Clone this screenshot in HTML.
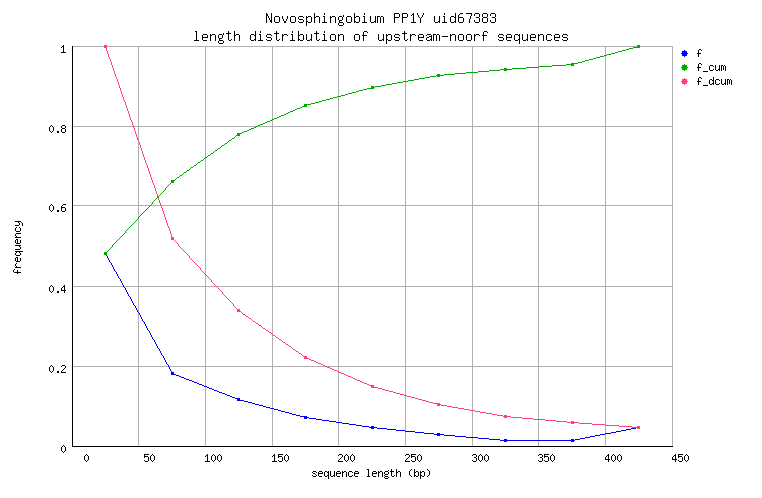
<!DOCTYPE html>
<html lang="en">
<head>
<meta charset="utf-8">
<title>Novosphingobium PP1Y uid67383 - length distribution of upstream-noorf sequences</title>
<style>
html,body{margin:0;padding:0;background:#fff;}
body{width:762px;height:498px;overflow:hidden;font-family:"Liberation Mono",monospace;}
svg{display:block;position:absolute;left:0;top:0;}
svg path{shape-rendering:crispEdges;stroke:none;}
svg text{font-family:"Liberation Mono",monospace;fill:#000;fill-opacity:0;}
.t-l{font-size:13.33px}.t-s{font-size:10px}
</style>
</head>
<body>
<svg width="762" height="498" viewBox="0 0 762 498" shape-rendering="crispEdges">
<rect width="762" height="498" fill="#fff"/>
<g id="grid" fill="#B0B0B0">
<rect x="138" y="46" width="1" height="401"/><rect x="205" y="46" width="1" height="401"/><rect x="272" y="46" width="1" height="401"/><rect x="338" y="46" width="1" height="401"/><rect x="405" y="46" width="1" height="401"/><rect x="472" y="46" width="1" height="401"/><rect x="538" y="46" width="1" height="401"/><rect x="605" y="46" width="1" height="401"/><rect x="672" y="46" width="1" height="401"/>
<rect x="72" y="46" width="601" height="1"/><rect x="72" y="126" width="601" height="1"/><rect x="72" y="205" width="601" height="1"/><rect x="72" y="286" width="601" height="1"/><rect x="72" y="366" width="601" height="1"/>
</g>
<g id="axes" fill="#000000"><rect x="72" y="46" width="1" height="401"/><rect x="72" y="446" width="601" height="1"/></g>
<g id="series-f" fill="#0000FF"><path d="M104 252h3v3h-3zM106 255h1v1h-1zM107 256h1v2h-1zM108 258h1v2h-1zM109 260h1v2h-1zM110 262h1v1h-1zM111 263h1v2h-1zM112 265h1v2h-1zM113 267h1v2h-1zM114 269h1v2h-1zM115 271h1v1h-1zM116 272h1v2h-1zM117 274h1v2h-1zM118 276h1v2h-1zM119 278h1v1h-1zM120 279h1v2h-1zM121 281h1v2h-1zM122 283h1v2h-1zM123 285h1v2h-1zM124 287h1v1h-1zM125 288h1v2h-1zM126 290h1v2h-1zM127 292h1v2h-1zM128 294h1v2h-1zM129 296h1v1h-1zM130 297h1v2h-1zM131 299h1v2h-1zM132 301h1v2h-1zM133 303h1v2h-1zM134 305h1v1h-1zM135 306h1v2h-1zM136 308h1v2h-1zM137 310h1v2h-1zM138 312h1v1h-1zM139 313h1v2h-1zM140 315h1v2h-1zM141 317h1v2h-1zM142 319h1v2h-1zM143 321h1v1h-1zM144 322h1v2h-1zM145 324h1v2h-1zM146 326h1v2h-1zM147 328h1v2h-1zM148 330h1v1h-1zM149 331h1v2h-1zM150 333h1v2h-1zM151 335h1v2h-1zM152 337h1v2h-1zM153 339h1v1h-1zM154 340h1v2h-1zM155 342h1v2h-1zM156 344h1v2h-1zM157 346h1v2h-1zM158 348h1v1h-1zM159 349h1v2h-1zM160 351h1v2h-1zM161 353h1v2h-1zM162 355h1v1h-1zM163 356h1v2h-1zM164 358h1v2h-1zM165 360h1v2h-1zM166 362h1v2h-1zM167 364h1v1h-1zM168 365h1v2h-1zM169 367h1v2h-1zM170 369h1v2h-1zM171 371h1v1h-1zM171 372h3v2h-3zM171 374h5v1h-5zM176 375h3v1h-3zM179 376h2v1h-2zM181 377h3v1h-3zM184 378h2v1h-2zM186 379h3v1h-3zM189 380h3v1h-3zM192 381h2v1h-2zM194 382h3v1h-3zM197 383h2v1h-2zM199 384h3v1h-3zM202 385h2v1h-2zM204 386h3v1h-3zM207 387h2v1h-2zM209 388h3v1h-3zM212 389h2v1h-2zM214 390h3v1h-3zM217 391h2v1h-2zM219 392h3v1h-3zM222 393h3v1h-3zM225 394h2v1h-2zM227 395h3v1h-3zM230 396h2v1h-2zM232 397h3v1h-3zM235 398h5v1h-5zM237 399h3v1h-3zM237 400h7v1h-7zM244 401h4v1h-4zM248 402h4v1h-4zM252 403h3v1h-3zM255 404h4v1h-4zM259 405h4v1h-4zM263 406h3v1h-3zM266 407h4v1h-4zM270 408h4v1h-4zM274 409h4v1h-4zM278 410h3v1h-3zM281 411h4v1h-4zM285 412h4v1h-4zM289 413h3v1h-3zM292 414h4v1h-4zM296 415h4v1h-4zM300 416h7v1h-7zM304 417h5v1h-5zM304 418h3v1h-3zM309 418h7v1h-7zM316 419h6v1h-6zM322 420h7v1h-7zM329 421h7v1h-7zM336 422h6v1h-6zM342 423h7v1h-7zM349 424h7v1h-7zM356 425h6v1h-6zM362 426h7v1h-7zM371 426h3v1h-3zM637 426h3v1h-3zM369 427h8v1h-8zM636 427h4v1h-4zM371 428h3v1h-3zM377 428h10v1h-10zM631 428h5v1h-5zM637 428h3v1h-3zM387 429h9v1h-9zM626 429h5v1h-5zM396 430h9v1h-9zM621 430h5v1h-5zM405 431h10v1h-10zM616 431h5v1h-5zM415 432h9v1h-9zM611 432h5v1h-5zM424 433h10v1h-10zM437 433h3v1h-3zM605 433h6v1h-6zM434 434h10v1h-10zM600 434h5v1h-5zM437 435h3v1h-3zM444 435h11v1h-11zM595 435h5v1h-5zM455 436h11v1h-11zM590 436h5v1h-5zM466 437h12v1h-12zM585 437h5v1h-5zM478 438h11v1h-11zM580 438h5v1h-5zM489 439h11v1h-11zM504 439h3v1h-3zM571 439h3v1h-3zM575 439h5v1h-5zM500 440h75v1h-75zM504 441h3v1h-3zM571 441h3v1h-3z"/></g>
<g id="series-f_cum" fill="#00AA00"><path d="M637 45h3v2h-3zM633 47h7v1h-7zM629 48h4v1h-4zM626 49h3v1h-3zM622 50h4v1h-4zM618 51h4v1h-4zM615 52h3v1h-3zM611 53h4v1h-4zM607 54h4v1h-4zM604 55h3v1h-3zM600 56h4v1h-4zM596 57h4v1h-4zM593 58h3v1h-3zM589 59h4v1h-4zM585 60h4v1h-4zM582 61h3v1h-3zM578 62h4v1h-4zM571 63h7v1h-7zM566 64h8v1h-8zM552 65h14v1h-14zM571 65h3v1h-3zM539 66h13v1h-13zM526 67h13v1h-13zM504 68h3v1h-3zM512 68h14v1h-14zM500 69h12v1h-12zM489 70h11v1h-11zM504 70h3v1h-3zM478 71h11v1h-11zM466 72h12v1h-12zM455 73h11v1h-11zM437 74h3v1h-3zM444 74h11v1h-11zM436 75h8v1h-8zM430 76h6v1h-6zM437 76h3v1h-3zM425 77h5v1h-5zM419 78h6v1h-6zM414 79h5v1h-5zM408 80h6v1h-6zM403 81h5v1h-5zM397 82h6v1h-6zM392 83h5v1h-5zM386 84h6v1h-6zM381 85h5v1h-5zM371 86h3v1h-3zM375 86h6v1h-6zM371 87h4v1h-4zM367 88h7v1h-7zM363 89h4v1h-4zM359 90h4v1h-4zM356 91h3v1h-3zM352 92h4v1h-4zM348 93h4v1h-4zM345 94h3v1h-3zM341 95h4v1h-4zM337 96h4v1h-4zM333 97h4v1h-4zM330 98h3v1h-3zM326 99h4v1h-4zM322 100h4v1h-4zM319 101h3v1h-3zM315 102h4v1h-4zM311 103h4v1h-4zM304 104h7v1h-7zM304 105h3v1h-3zM302 106h5v1h-5zM300 107h2v1h-2zM297 108h3v1h-3zM295 109h2v1h-2zM293 110h2v1h-2zM290 111h3v1h-3zM288 112h2v1h-2zM286 113h2v1h-2zM284 114h2v1h-2zM281 115h3v1h-3zM279 116h2v1h-2zM277 117h2v1h-2zM274 118h3v1h-3zM272 119h2v1h-2zM270 120h2v1h-2zM267 121h3v1h-3zM265 122h2v1h-2zM263 123h2v1h-2zM260 124h3v1h-3zM258 125h2v1h-2zM256 126h2v1h-2zM254 127h2v1h-2zM251 128h3v1h-3zM249 129h2v1h-2zM247 130h2v1h-2zM244 131h3v1h-3zM242 132h2v1h-2zM237 133h5v1h-5zM237 134h3v1h-3zM236 135h4v1h-4zM235 136h1v1h-1zM234 137h1v1h-1zM232 138h2v1h-2zM231 139h1v1h-1zM229 140h2v1h-2zM228 141h1v1h-1zM227 142h1v1h-1zM225 143h2v1h-2zM224 144h1v1h-1zM222 145h2v1h-2zM221 146h1v1h-1zM220 147h1v1h-1zM218 148h2v1h-2zM217 149h1v1h-1zM215 150h2v1h-2zM214 151h1v1h-1zM213 152h1v1h-1zM211 153h2v1h-2zM210 154h1v1h-1zM208 155h2v1h-2zM207 156h1v1h-1zM205 157h2v1h-2zM204 158h1v1h-1zM203 159h1v1h-1zM201 160h2v1h-2zM200 161h1v1h-1zM198 162h2v1h-2zM197 163h1v1h-1zM196 164h1v1h-1zM194 165h2v1h-2zM193 166h1v1h-1zM191 167h2v1h-2zM190 168h1v1h-1zM189 169h1v1h-1zM187 170h2v1h-2zM186 171h1v1h-1zM184 172h2v1h-2zM183 173h1v1h-1zM182 174h1v1h-1zM180 175h2v1h-2zM179 176h1v1h-1zM177 177h2v1h-2zM176 178h1v1h-1zM175 179h1v1h-1zM171 180h4v1h-4zM171 181h3v2h-3zM170 183h1v1h-1zM169 184h1v1h-1zM168 185h1v1h-1zM167 186h1v1h-1zM166 187h1v1h-1zM165 188h1v2h-1zM164 190h1v1h-1zM163 191h1v1h-1zM162 192h1v1h-1zM161 193h1v1h-1zM160 194h1v1h-1zM159 195h1v1h-1zM158 196h1v1h-1zM157 197h1v1h-1zM156 198h1v1h-1zM155 199h1v1h-1zM154 200h1v1h-1zM153 201h1v1h-1zM152 202h1v2h-1zM151 204h1v1h-1zM150 205h1v1h-1zM149 206h1v1h-1zM148 207h1v1h-1zM147 208h1v1h-1zM146 209h1v1h-1zM145 210h1v1h-1zM144 211h1v1h-1zM143 212h1v1h-1zM142 213h1v1h-1zM141 214h1v1h-1zM140 215h1v1h-1zM139 216h1v1h-1zM138 217h1v2h-1zM137 219h1v1h-1zM136 220h1v1h-1zM135 221h1v1h-1zM134 222h1v1h-1zM133 223h1v1h-1zM132 224h1v1h-1zM131 225h1v1h-1zM130 226h1v1h-1zM129 227h1v1h-1zM128 228h1v1h-1zM127 229h1v1h-1zM126 230h1v1h-1zM125 231h1v2h-1zM124 233h1v1h-1zM123 234h1v1h-1zM122 235h1v1h-1zM121 236h1v1h-1zM120 237h1v1h-1zM119 238h1v1h-1zM118 239h1v1h-1zM117 240h1v1h-1zM116 241h1v1h-1zM115 242h1v1h-1zM114 243h1v1h-1zM113 244h1v1h-1zM112 245h1v2h-1zM111 247h1v1h-1zM110 248h1v1h-1zM109 249h1v1h-1zM108 250h1v1h-1zM107 251h1v1h-1zM104 252h3v3h-3z"/></g>
<g id="series-f_dcum" fill="#FF4272"><path d="M104 45h3v3h-3zM106 48h1v3h-1zM107 51h1v3h-1zM108 54h1v3h-1zM109 57h1v2h-1zM110 59h1v3h-1zM111 62h1v3h-1zM112 65h1v3h-1zM113 68h1v3h-1zM114 71h1v3h-1zM115 74h1v3h-1zM116 77h1v2h-1zM117 79h1v3h-1zM118 82h1v3h-1zM119 85h1v3h-1zM120 88h1v3h-1zM121 91h1v3h-1zM122 94h1v3h-1zM123 97h1v3h-1zM124 100h1v2h-1zM125 102h1v3h-1zM126 105h1v3h-1zM127 108h1v3h-1zM128 111h1v3h-1zM129 114h1v3h-1zM130 117h1v3h-1zM131 120h1v2h-1zM132 122h1v3h-1zM133 125h1v3h-1zM134 128h1v3h-1zM135 131h1v3h-1zM136 134h1v3h-1zM137 137h1v3h-1zM138 140h1v2h-1zM139 142h1v3h-1zM140 145h1v3h-1zM141 148h1v3h-1zM142 151h1v3h-1zM143 154h1v3h-1zM144 157h1v3h-1zM145 160h1v3h-1zM146 163h1v2h-1zM147 165h1v3h-1zM148 168h1v3h-1zM149 171h1v3h-1zM150 174h1v3h-1zM151 177h1v3h-1zM152 180h1v3h-1zM153 183h1v2h-1zM154 185h1v3h-1zM155 188h1v3h-1zM156 191h1v3h-1zM157 194h1v3h-1zM158 197h1v3h-1zM159 200h1v3h-1zM160 203h1v3h-1zM161 206h1v2h-1zM162 208h1v3h-1zM163 211h1v3h-1zM164 214h1v3h-1zM165 217h1v3h-1zM166 220h1v3h-1zM167 223h1v3h-1zM168 226h1v2h-1zM169 228h1v3h-1zM170 231h1v3h-1zM171 234h1v3h-1zM171 237h3v3h-3zM174 240h1v1h-1zM175 241h1v1h-1zM176 242h1v1h-1zM177 243h1v1h-1zM178 244h1v2h-1zM179 246h1v1h-1zM180 247h1v1h-1zM181 248h1v1h-1zM182 249h1v1h-1zM183 250h1v1h-1zM184 251h1v1h-1zM185 252h1v1h-1zM186 253h1v1h-1zM187 254h1v1h-1zM188 255h1v1h-1zM189 256h1v2h-1zM190 258h1v1h-1zM191 259h1v1h-1zM192 260h1v1h-1zM193 261h1v1h-1zM194 262h1v1h-1zM195 263h1v1h-1zM196 264h1v1h-1zM197 265h1v1h-1zM198 266h1v1h-1zM199 267h1v1h-1zM200 268h1v2h-1zM201 270h1v1h-1zM202 271h1v1h-1zM203 272h1v1h-1zM204 273h1v1h-1zM205 274h1v1h-1zM206 275h1v1h-1zM207 276h1v1h-1zM208 277h1v1h-1zM209 278h1v1h-1zM210 279h1v1h-1zM211 280h1v2h-1zM212 282h1v1h-1zM213 283h1v1h-1zM214 284h1v1h-1zM215 285h1v1h-1zM216 286h1v1h-1zM217 287h1v1h-1zM218 288h1v1h-1zM219 289h1v1h-1zM220 290h1v1h-1zM221 291h1v1h-1zM222 292h1v2h-1zM223 294h1v1h-1zM224 295h1v1h-1zM225 296h1v1h-1zM226 297h1v1h-1zM227 298h1v1h-1zM228 299h1v1h-1zM229 300h1v1h-1zM230 301h1v1h-1zM231 302h1v1h-1zM232 303h1v1h-1zM233 304h1v2h-1zM234 306h1v1h-1zM235 307h1v1h-1zM236 308h1v1h-1zM237 309h3v2h-3zM237 311h4v1h-4zM241 312h1v1h-1zM242 313h1v1h-1zM243 314h2v1h-2zM245 315h1v1h-1zM246 316h2v1h-2zM248 317h1v1h-1zM249 318h2v1h-2zM251 319h1v1h-1zM252 320h1v1h-1zM253 321h2v1h-2zM255 322h1v1h-1zM256 323h2v1h-2zM258 324h1v1h-1zM259 325h2v1h-2zM261 326h1v1h-1zM262 327h1v1h-1zM263 328h2v1h-2zM265 329h1v1h-1zM266 330h2v1h-2zM268 331h1v1h-1zM269 332h2v1h-2zM271 333h1v1h-1zM272 334h1v1h-1zM273 335h2v1h-2zM275 336h1v1h-1zM276 337h2v1h-2zM278 338h1v1h-1zM279 339h2v1h-2zM281 340h1v1h-1zM282 341h1v1h-1zM283 342h2v1h-2zM285 343h1v1h-1zM286 344h2v1h-2zM288 345h1v1h-1zM289 346h2v1h-2zM291 347h1v1h-1zM292 348h1v1h-1zM293 349h2v1h-2zM295 350h1v1h-1zM296 351h2v1h-2zM298 352h1v1h-1zM299 353h2v1h-2zM301 354h1v1h-1zM302 355h1v1h-1zM303 356h4v1h-4zM304 357h3v1h-3zM304 358h5v1h-5zM309 359h2v1h-2zM311 360h3v1h-3zM314 361h2v1h-2zM316 362h2v1h-2zM318 363h3v1h-3zM321 364h2v1h-2zM323 365h2v1h-2zM325 366h2v1h-2zM327 367h3v1h-3zM330 368h2v1h-2zM332 369h2v1h-2zM334 370h3v1h-3zM337 371h2v1h-2zM339 372h2v1h-2zM341 373h3v1h-3zM344 374h2v1h-2zM346 375h2v1h-2zM348 376h3v1h-3zM351 377h2v1h-2zM353 378h2v1h-2zM355 379h2v1h-2zM357 380h3v1h-3zM360 381h2v1h-2zM362 382h2v1h-2zM364 383h3v1h-3zM367 384h2v1h-2zM369 385h5v1h-5zM371 386h3v1h-3zM371 387h7v1h-7zM378 388h4v1h-4zM382 389h3v1h-3zM385 390h4v1h-4zM389 391h4v1h-4zM393 392h3v1h-3zM396 393h4v1h-4zM400 394h4v1h-4zM404 395h3v1h-3zM407 396h4v1h-4zM411 397h4v1h-4zM415 398h3v1h-3zM418 399h4v1h-4zM422 400h4v1h-4zM426 401h3v1h-3zM429 402h4v1h-4zM433 403h7v1h-7zM437 404h4v1h-4zM437 405h3v1h-3zM441 405h6v1h-6zM447 406h5v1h-5zM452 407h6v1h-6zM458 408h6v1h-6zM464 409h5v1h-5zM469 410h6v1h-6zM475 411h5v1h-5zM480 412h6v1h-6zM486 413h6v1h-6zM492 414h5v1h-5zM497 415h6v1h-6zM504 415h3v1h-3zM503 416h8v1h-8zM504 417h3v1h-3zM511 417h11v1h-11zM522 418h11v1h-11zM533 419h12v1h-12zM545 420h11v1h-11zM556 421h11v1h-11zM571 421h3v1h-3zM567 422h12v1h-12zM571 423h3v1h-3zM579 423h13v1h-13zM592 424h13v1h-13zM605 425h14v1h-14zM619 426h13v1h-13zM637 426h3v1h-3zM632 427h8v1h-8zM637 428h3v1h-3z"/></g>
<g class="text" fill="#000000"><text class="t-l" x="265" y="23">Novosphingobium PP1Y uid67383</text><path d="M266 13h1v1h-1zM271 13h1v7h-1zM314 13h1v4h-1zM324 13h1v2h-1zM354 13h1v4h-1zM364 13h1v2h-1zM394 13h5v1h-5zM402 13h5v1h-5zM413 13h1v1h-1zM417 13h1v2h-1zM423 13h1v2h-1zM444 13h1v2h-1zM455 13h1v4h-1zM460 13h3v1h-3zM466 13h6v1h-6zM475 13h4v1h-4zM483 13h4v1h-4zM491 13h4v1h-4zM266 14h2v2h-2zM394 14h1v3h-1zM399 14h1v3h-1zM402 14h1v3h-1zM407 14h1v3h-1zM412 14h2v1h-2zM459 14h1v1h-1zM471 14h1v2h-1zM474 14h1v2h-1zM479 14h1v3h-1zM482 14h1v3h-1zM487 14h1v3h-1zM490 14h1v2h-1zM495 14h1v3h-1zM343 15h1v2h-1zM411 15h1v1h-1zM413 15h1v7h-1zM418 15h1v2h-1zM422 15h1v2h-1zM458 15h1v2h-1zM266 16h1v7h-1zM268 16h1v2h-1zM275 16h4v1h-4zM282 16h1v3h-1zM287 16h1v3h-1zM291 16h4v1h-4zM299 16h4v1h-4zM306 16h1v1h-1zM308 16h3v1h-3zM316 16h3v1h-3zM323 16h2v1h-2zM330 16h1v1h-1zM332 16h3v1h-3zM339 16h3v1h-3zM347 16h4v1h-4zM356 16h3v1h-3zM363 16h2v1h-2zM370 16h1v6h-1zM375 16h1v5h-1zM377 16h3v1h-3zM381 16h2v1h-2zM434 16h1v6h-1zM439 16h1v5h-1zM443 16h2v1h-2zM451 16h3v1h-3zM470 16h1v3h-1zM274 17h1v5h-1zM279 17h1v5h-1zM290 17h1v5h-1zM295 17h1v5h-1zM298 17h1v2h-1zM303 17h1v1h-1zM306 17h2v1h-2zM311 17h1v5h-1zM314 17h2v1h-2zM319 17h1v6h-1zM324 17h1v5h-1zM330 17h2v1h-2zM335 17h1v6h-1zM338 17h1v3h-1zM342 17h1v3h-1zM346 17h1v5h-1zM351 17h1v5h-1zM354 17h2v1h-2zM359 17h1v5h-1zM364 17h1v5h-1zM377 17h1v6h-1zM380 17h1v6h-1zM383 17h1v6h-1zM394 17h5v1h-5zM402 17h5v1h-5zM419 17h1v1h-1zM421 17h1v1h-1zM444 17h1v5h-1zM450 17h1v5h-1zM454 17h2v1h-2zM458 17h5v1h-5zM476 17h3v1h-3zM483 17h4v1h-4zM492 17h3v1h-3zM269 18h1v2h-1zM306 18h1v3h-1zM314 18h1v5h-1zM330 18h1v5h-1zM354 18h1v3h-1zM394 18h1v5h-1zM402 18h1v5h-1zM420 18h1v5h-1zM455 18h1v3h-1zM458 18h1v4h-1zM463 18h1v4h-1zM479 18h1v4h-1zM482 18h1v4h-1zM487 18h1v4h-1zM495 18h1v4h-1zM283 19h1v2h-1zM286 19h1v2h-1zM299 19h4v1h-4zM469 19h1v4h-1zM270 20h2v2h-2zM303 20h1v2h-1zM339 20h3v1h-3zM474 20h1v2h-1zM490 20h1v2h-1zM284 21h2v2h-2zM298 21h1v1h-1zM306 21h2v1h-2zM339 21h1v1h-1zM354 21h2v1h-2zM374 21h2v1h-2zM438 21h2v1h-2zM454 21h2v1h-2zM271 22h1v1h-1zM275 22h4v1h-4zM291 22h4v1h-4zM299 22h4v1h-4zM306 22h1v4h-1zM308 22h3v1h-3zM322 22h5v1h-5zM339 22h4v1h-4zM347 22h4v1h-4zM354 22h1v1h-1zM356 22h3v1h-3zM362 22h5v1h-5zM371 22h3v1h-3zM375 22h1v1h-1zM411 22h5v1h-5zM435 22h3v1h-3zM439 22h1v1h-1zM442 22h5v1h-5zM451 22h3v1h-3zM455 22h1v1h-1zM459 22h4v1h-4zM475 22h4v1h-4zM483 22h4v1h-4zM491 22h4v1h-4zM338 23h1v2h-1zM343 23h1v2h-1zM339 25h4v1h-4z"/></g>
<g class="text" fill="#000000"><text class="t-l" x="193" y="41">length distribution of upstream-noorf sequences</text><path d="M195 31h2v1h-2zM228 31h1v2h-1zM234 31h1v4h-1zM255 31h1v4h-1zM260 31h1v2h-1zM276 31h1v2h-1zM292 31h1v2h-1zM298 31h1v4h-1zM316 31h1v2h-1zM324 31h1v2h-1zM364 31h3v1h-3zM404 31h1v2h-1zM484 31h3v1h-3zM196 32h1v8h-1zM363 32h1v3h-1zM367 32h1v1h-1zM483 32h1v3h-1zM487 32h1v1h-1zM223 33h1v2h-1zM226 33h5v1h-5zM274 33h5v1h-5zM314 33h5v1h-5zM402 33h5v1h-5zM203 34h4v1h-4zM210 34h1v1h-1zM212 34h3v1h-3zM219 34h3v1h-3zM228 34h1v6h-1zM236 34h3v1h-3zM251 34h3v1h-3zM259 34h2v1h-2zM267 34h4v1h-4zM276 34h1v6h-1zM282 34h1v1h-1zM284 34h3v1h-3zM291 34h2v1h-2zM300 34h3v1h-3zM306 34h1v6h-1zM311 34h1v5h-1zM316 34h1v6h-1zM323 34h2v1h-2zM331 34h4v1h-4zM338 34h1v1h-1zM340 34h3v1h-3zM355 34h4v1h-4zM378 34h1v6h-1zM383 34h1v5h-1zM386 34h1v1h-1zM388 34h3v1h-3zM395 34h4v1h-4zM404 34h1v6h-1zM410 34h1v1h-1zM412 34h3v1h-3zM419 34h4v1h-4zM427 34h4v1h-4zM433 34h3v1h-3zM437 34h2v1h-2zM450 34h1v1h-1zM452 34h3v1h-3zM459 34h4v1h-4zM467 34h4v1h-4zM474 34h1v1h-1zM476 34h3v1h-3zM499 34h4v1h-4zM507 34h4v1h-4zM515 34h3v1h-3zM519 34h1v1h-1zM522 34h1v6h-1zM527 34h1v5h-1zM531 34h4v1h-4zM538 34h1v1h-1zM540 34h3v1h-3zM547 34h4v1h-4zM555 34h4v1h-4zM563 34h4v1h-4zM202 35h1v2h-1zM207 35h1v2h-1zM210 35h2v1h-2zM215 35h1v6h-1zM218 35h1v3h-1zM222 35h1v3h-1zM234 35h2v1h-2zM239 35h1v6h-1zM250 35h1v5h-1zM254 35h2v1h-2zM260 35h1v5h-1zM266 35h1v2h-1zM271 35h1v1h-1zM282 35h2v1h-2zM287 35h1v1h-1zM292 35h1v5h-1zM298 35h2v1h-2zM303 35h1v5h-1zM324 35h1v5h-1zM330 35h1v5h-1zM335 35h1v5h-1zM338 35h2v1h-2zM343 35h1v6h-1zM354 35h1v5h-1zM359 35h1v5h-1zM362 35h5v1h-5zM386 35h2v1h-2zM391 35h1v5h-1zM394 35h1v2h-1zM399 35h1v1h-1zM410 35h2v1h-2zM415 35h1v1h-1zM418 35h1v2h-1zM423 35h1v2h-1zM426 35h1v1h-1zM431 35h1v1h-1zM433 35h1v6h-1zM436 35h1v6h-1zM439 35h1v6h-1zM450 35h2v1h-2zM455 35h1v6h-1zM458 35h1v5h-1zM463 35h1v5h-1zM466 35h1v5h-1zM471 35h1v5h-1zM474 35h2v1h-2zM479 35h1v1h-1zM482 35h5v1h-5zM498 35h1v2h-1zM503 35h1v1h-1zM506 35h1v2h-1zM511 35h1v2h-1zM514 35h1v5h-1zM518 35h2v1h-2zM530 35h1v2h-1zM535 35h1v2h-1zM538 35h2v1h-2zM543 35h1v6h-1zM546 35h1v5h-1zM551 35h1v1h-1zM554 35h1v2h-1zM559 35h1v2h-1zM562 35h1v2h-1zM567 35h1v1h-1zM210 36h1v5h-1zM234 36h1v5h-1zM255 36h1v3h-1zM282 36h1v5h-1zM298 36h1v3h-1zM338 36h1v5h-1zM363 36h1v5h-1zM386 36h1v3h-1zM410 36h1v5h-1zM429 36h3v1h-3zM442 36h6v1h-6zM450 36h1v5h-1zM474 36h1v5h-1zM483 36h1v5h-1zM519 36h1v3h-1zM538 36h1v5h-1zM202 37h6v1h-6zM267 37h4v1h-4zM395 37h4v1h-4zM418 37h6v1h-6zM427 37h2v1h-2zM431 37h1v2h-1zM499 37h4v1h-4zM506 37h6v1h-6zM530 37h6v1h-6zM554 37h6v1h-6zM563 37h4v1h-4zM202 38h1v2h-1zM219 38h3v1h-3zM271 38h1v2h-1zM399 38h1v2h-1zM418 38h1v2h-1zM426 38h1v2h-1zM503 38h1v2h-1zM506 38h1v2h-1zM530 38h1v2h-1zM554 38h1v2h-1zM567 38h1v2h-1zM219 39h1v1h-1zM231 39h1v1h-1zM254 39h2v1h-2zM266 39h1v1h-1zM279 39h1v1h-1zM298 39h2v1h-2zM310 39h2v1h-2zM319 39h1v1h-1zM382 39h2v1h-2zM386 39h2v1h-2zM394 39h1v1h-1zM407 39h1v1h-1zM430 39h2v1h-2zM498 39h1v1h-1zM518 39h2v1h-2zM526 39h2v1h-2zM551 39h1v1h-1zM562 39h1v1h-1zM194 40h5v1h-5zM203 40h4v1h-4zM219 40h4v1h-4zM229 40h2v1h-2zM251 40h3v1h-3zM255 40h1v1h-1zM258 40h5v1h-5zM267 40h4v1h-4zM277 40h2v1h-2zM290 40h5v1h-5zM298 40h1v1h-1zM300 40h3v1h-3zM307 40h3v1h-3zM311 40h1v1h-1zM317 40h2v1h-2zM322 40h5v1h-5zM331 40h4v1h-4zM355 40h4v1h-4zM379 40h3v1h-3zM383 40h1v1h-1zM386 40h1v4h-1zM388 40h3v1h-3zM395 40h4v1h-4zM405 40h2v1h-2zM419 40h4v1h-4zM427 40h3v1h-3zM431 40h1v1h-1zM459 40h4v1h-4zM467 40h4v1h-4zM499 40h4v1h-4zM507 40h4v1h-4zM515 40h3v1h-3zM519 40h1v4h-1zM523 40h3v1h-3zM527 40h1v1h-1zM531 40h4v1h-4zM547 40h4v1h-4zM555 40h4v1h-4zM563 40h4v1h-4zM218 41h1v2h-1zM223 41h1v2h-1zM219 43h4v1h-4z"/></g>
<g class="text" fill="#000000"><text class="t-s" x="84" y="462">0</text><path d="M86 454h1v1h-1zM85 455h1v1h-1zM87 455h1v1h-1zM84 456h1v4h-1zM88 456h1v4h-1zM85 460h1v1h-1zM87 460h1v1h-1zM86 461h1v1h-1z"/></g>
<g class="text" fill="#000000"><text class="t-s" x="144" y="462">50</text><path d="M144 454h5v1h-5zM152 454h1v1h-1zM144 455h1v1h-1zM151 455h1v1h-1zM153 455h1v1h-1zM144 456h4v1h-4zM150 456h1v4h-1zM154 456h1v4h-1zM144 457h1v1h-1zM148 457h1v4h-1zM144 460h1v1h-1zM151 460h1v1h-1zM153 460h1v1h-1zM145 461h3v1h-3zM152 461h1v1h-1z"/></g>
<g class="text" fill="#000000"><text class="t-s" x="205" y="462">100</text><path d="M207 454h1v1h-1zM213 454h1v1h-1zM219 454h1v1h-1zM206 455h2v1h-2zM212 455h1v1h-1zM214 455h1v1h-1zM218 455h1v1h-1zM220 455h1v1h-1zM205 456h1v1h-1zM207 456h1v5h-1zM211 456h1v4h-1zM215 456h1v4h-1zM217 456h1v4h-1zM221 456h1v4h-1zM212 460h1v1h-1zM214 460h1v1h-1zM218 460h1v1h-1zM220 460h1v1h-1zM205 461h5v1h-5zM213 461h1v1h-1zM219 461h1v1h-1z"/></g>
<g class="text" fill="#000000"><text class="t-s" x="272" y="462">150</text><path d="M274 454h1v1h-1zM278 454h5v1h-5zM286 454h1v1h-1zM273 455h2v1h-2zM278 455h1v1h-1zM285 455h1v1h-1zM287 455h1v1h-1zM272 456h1v1h-1zM274 456h1v5h-1zM278 456h4v1h-4zM284 456h1v4h-1zM288 456h1v4h-1zM278 457h1v1h-1zM282 457h1v4h-1zM278 460h1v1h-1zM285 460h1v1h-1zM287 460h1v1h-1zM272 461h5v1h-5zM279 461h3v1h-3zM286 461h1v1h-1z"/></g>
<g class="text" fill="#000000"><text class="t-s" x="338" y="462">200</text><path d="M339 454h3v1h-3zM346 454h1v1h-1zM352 454h1v1h-1zM338 455h1v1h-1zM342 455h1v2h-1zM345 455h1v1h-1zM347 455h1v1h-1zM351 455h1v1h-1zM353 455h1v1h-1zM344 456h1v4h-1zM348 456h1v4h-1zM350 456h1v4h-1zM354 456h1v4h-1zM341 457h1v1h-1zM340 458h1v1h-1zM339 459h1v1h-1zM338 460h1v1h-1zM345 460h1v1h-1zM347 460h1v1h-1zM351 460h1v1h-1zM353 460h1v1h-1zM338 461h5v1h-5zM346 461h1v1h-1zM352 461h1v1h-1z"/></g>
<g class="text" fill="#000000"><text class="t-s" x="405" y="462">250</text><path d="M406 454h3v1h-3zM411 454h5v1h-5zM419 454h1v1h-1zM405 455h1v1h-1zM409 455h1v2h-1zM411 455h1v1h-1zM418 455h1v1h-1zM420 455h1v1h-1zM411 456h4v1h-4zM417 456h1v4h-1zM421 456h1v4h-1zM408 457h1v1h-1zM411 457h1v1h-1zM415 457h1v4h-1zM407 458h1v1h-1zM406 459h1v1h-1zM405 460h1v1h-1zM411 460h1v1h-1zM418 460h1v1h-1zM420 460h1v1h-1zM405 461h5v1h-5zM412 461h3v1h-3zM419 461h1v1h-1z"/></g>
<g class="text" fill="#000000"><text class="t-s" x="472" y="462">300</text><path d="M473 454h3v1h-3zM480 454h1v1h-1zM486 454h1v1h-1zM472 455h1v1h-1zM476 455h1v2h-1zM479 455h1v1h-1zM481 455h1v1h-1zM485 455h1v1h-1zM487 455h1v1h-1zM478 456h1v4h-1zM482 456h1v4h-1zM484 456h1v4h-1zM488 456h1v4h-1zM474 457h2v1h-2zM476 458h1v3h-1zM472 460h1v1h-1zM479 460h1v1h-1zM481 460h1v1h-1zM485 460h1v1h-1zM487 460h1v1h-1zM473 461h3v1h-3zM480 461h1v1h-1zM486 461h1v1h-1z"/></g>
<g class="text" fill="#000000"><text class="t-s" x="538" y="462">350</text><path d="M539 454h3v1h-3zM544 454h5v1h-5zM552 454h1v1h-1zM538 455h1v1h-1zM542 455h1v2h-1zM544 455h1v1h-1zM551 455h1v1h-1zM553 455h1v1h-1zM544 456h4v1h-4zM550 456h1v4h-1zM554 456h1v4h-1zM540 457h2v1h-2zM544 457h1v1h-1zM548 457h1v4h-1zM542 458h1v3h-1zM538 460h1v1h-1zM544 460h1v1h-1zM551 460h1v1h-1zM553 460h1v1h-1zM539 461h3v1h-3zM545 461h3v1h-3zM552 461h1v1h-1z"/></g>
<g class="text" fill="#000000"><text class="t-s" x="605" y="462">400</text><path d="M608 454h1v1h-1zM613 454h1v1h-1zM619 454h1v1h-1zM607 455h2v1h-2zM612 455h1v1h-1zM614 455h1v1h-1zM618 455h1v1h-1zM620 455h1v1h-1zM606 456h1v1h-1zM608 456h1v3h-1zM611 456h1v4h-1zM615 456h1v4h-1zM617 456h1v4h-1zM621 456h1v4h-1zM605 457h1v2h-1zM605 459h5v1h-5zM608 460h1v2h-1zM612 460h1v1h-1zM614 460h1v1h-1zM618 460h1v1h-1zM620 460h1v1h-1zM613 461h1v1h-1zM619 461h1v1h-1z"/></g>
<g class="text" fill="#000000"><text class="t-s" x="672" y="462">450</text><path d="M675 454h1v1h-1zM678 454h5v1h-5zM686 454h1v1h-1zM674 455h2v1h-2zM678 455h1v1h-1zM685 455h1v1h-1zM687 455h1v1h-1zM673 456h1v1h-1zM675 456h1v3h-1zM678 456h4v1h-4zM684 456h1v4h-1zM688 456h1v4h-1zM672 457h1v2h-1zM678 457h1v1h-1zM682 457h1v4h-1zM672 459h5v1h-5zM675 460h1v2h-1zM678 460h1v1h-1zM685 460h1v1h-1zM687 460h1v1h-1zM679 461h3v1h-3zM686 461h1v1h-1z"/></g>
<g class="text" fill="#000000"><text class="t-s" x="61" y="53">1</text><path d="M63 45h1v1h-1zM62 46h2v1h-2zM61 47h1v1h-1zM63 47h1v5h-1zM61 52h5v1h-5z"/></g>
<g class="text" fill="#000000"><text class="t-s" x="49" y="133">0.8</text><path d="M51 125h1v1h-1zM62 125h3v1h-3zM50 126h1v1h-1zM52 126h1v1h-1zM61 126h1v2h-1zM65 126h1v2h-1zM49 127h1v4h-1zM53 127h1v4h-1zM62 128h3v1h-3zM61 129h1v3h-1zM65 129h1v3h-1zM50 131h1v1h-1zM52 131h1v1h-1zM57 131h2v2h-2zM51 132h1v1h-1zM62 132h3v1h-3z"/></g>
<g class="text" fill="#000000"><text class="t-s" x="49" y="212">0.6</text><path d="M51 204h1v1h-1zM63 204h3v1h-3zM50 205h1v1h-1zM52 205h1v1h-1zM62 205h1v1h-1zM49 206h1v4h-1zM53 206h1v4h-1zM61 206h1v1h-1zM61 207h4v1h-4zM61 208h1v3h-1zM65 208h1v3h-1zM50 210h1v1h-1zM52 210h1v1h-1zM57 210h2v2h-2zM51 211h1v1h-1zM62 211h3v1h-3z"/></g>
<g class="text" fill="#000000"><text class="t-s" x="49" y="293">0.4</text><path d="M51 285h1v1h-1zM64 285h1v1h-1zM50 286h1v1h-1zM52 286h1v1h-1zM63 286h2v1h-2zM49 287h1v4h-1zM53 287h1v4h-1zM62 287h1v1h-1zM64 287h1v3h-1zM61 288h1v2h-1zM61 290h5v1h-5zM50 291h1v1h-1zM52 291h1v1h-1zM57 291h2v2h-2zM64 291h1v2h-1zM51 292h1v1h-1z"/></g>
<g class="text" fill="#000000"><text class="t-s" x="49" y="373">0.2</text><path d="M51 365h1v1h-1zM62 365h3v1h-3zM50 366h1v1h-1zM52 366h1v1h-1zM61 366h1v1h-1zM65 366h1v2h-1zM49 367h1v4h-1zM53 367h1v4h-1zM64 368h1v1h-1zM63 369h1v1h-1zM62 370h1v1h-1zM50 371h1v1h-1zM52 371h1v1h-1zM57 371h2v2h-2zM61 371h1v1h-1zM51 372h1v1h-1zM61 372h5v1h-5z"/></g>
<g class="text" fill="#000000"><text class="t-s" x="61" y="453">0</text><path d="M63 445h1v1h-1zM62 446h1v1h-1zM64 446h1v1h-1zM61 447h1v4h-1zM65 447h1v4h-1zM62 451h1v1h-1zM64 451h1v1h-1zM63 452h1v1h-1z"/></g>
<g class="text" fill="#000000"><text class="t-s" x="312" y="477">sequence length (bp)</text><path d="M367 469h2v1h-2zM391 469h1v2h-1zM396 469h1v3h-1zM411 469h1v1h-1zM414 469h1v3h-1zM427 469h1v1h-1zM368 470h1v6h-1zM388 470h1v1h-1zM410 470h1v1h-1zM428 470h1v1h-1zM313 471h3v1h-3zM319 471h3v1h-3zM325 471h2v1h-2zM328 471h1v1h-1zM330 471h1v5h-1zM334 471h1v4h-1zM337 471h3v1h-3zM342 471h1v1h-1zM344 471h2v1h-2zM349 471h3v1h-3zM355 471h3v1h-3zM373 471h3v1h-3zM378 471h1v1h-1zM380 471h2v1h-2zM385 471h3v1h-3zM390 471h4v1h-4zM398 471h2v1h-2zM409 471h1v4h-1zM416 471h2v1h-2zM420 471h1v1h-1zM422 471h2v1h-2zM429 471h1v4h-1zM312 472h1v1h-1zM316 472h1v1h-1zM318 472h1v1h-1zM322 472h1v1h-1zM324 472h1v4h-1zM327 472h2v1h-2zM336 472h1v1h-1zM340 472h1v1h-1zM342 472h2v1h-2zM346 472h1v5h-1zM348 472h1v4h-1zM352 472h1v1h-1zM354 472h1v1h-1zM358 472h1v1h-1zM372 472h1v1h-1zM376 472h1v1h-1zM378 472h2v1h-2zM382 472h1v5h-1zM384 472h1v2h-1zM388 472h1v2h-1zM391 472h1v4h-1zM396 472h2v1h-2zM400 472h1v5h-1zM414 472h2v1h-2zM418 472h1v4h-1zM420 472h2v1h-2zM424 472h1v4h-1zM313 473h2v1h-2zM318 473h5v1h-5zM328 473h1v2h-1zM336 473h5v1h-5zM342 473h1v4h-1zM354 473h5v1h-5zM372 473h5v1h-5zM378 473h1v4h-1zM396 473h1v4h-1zM414 473h1v2h-1zM420 473h1v2h-1zM315 474h1v1h-1zM318 474h1v2h-1zM336 474h1v2h-1zM354 474h1v2h-1zM372 474h1v2h-1zM385 474h3v1h-3zM312 475h1v1h-1zM316 475h1v1h-1zM327 475h2v1h-2zM333 475h2v1h-2zM352 475h1v1h-1zM384 475h1v1h-1zM394 475h1v1h-1zM410 475h1v1h-1zM414 475h2v1h-2zM420 475h2v1h-2zM428 475h1v1h-1zM313 476h3v1h-3zM319 476h3v1h-3zM325 476h2v1h-2zM328 476h1v3h-1zM331 476h2v1h-2zM334 476h1v1h-1zM337 476h3v1h-3zM349 476h3v1h-3zM355 476h3v1h-3zM367 476h3v1h-3zM373 476h3v1h-3zM385 476h3v1h-3zM392 476h2v1h-2zM411 476h1v1h-1zM414 476h1v1h-1zM416 476h2v1h-2zM420 476h1v3h-1zM422 476h2v1h-2zM427 476h1v1h-1zM384 477h1v1h-1zM388 477h1v1h-1zM385 478h3v1h-3z"/></g>
<g class="text" fill="#000000"><text class="t-s" transform="translate(21,274) rotate(-90)">frequency</text><path d="M15 221h6v1h-6zM18 222h1v1h-1zM21 222h1v1h-1zM19 223h1v2h-1zM22 223h1v3h-1zM15 225h4v1h-4zM16 227h1v1h-1zM19 227h1v1h-1zM15 228h1v3h-1zM20 228h1v3h-1zM16 231h4v1h-4zM16 233h5v1h-5zM15 234h1v2h-1zM16 236h1v1h-1zM15 237h6v1h-6zM16 239h2v1h-2zM15 240h1v3h-1zM17 240h1v3h-1zM20 240h1v3h-1zM16 243h4v1h-4zM15 245h6v1h-6zM19 246h1v1h-1zM20 247h1v2h-1zM15 249h5v1h-5zM15 251h8v1h-8zM16 252h1v1h-1zM19 252h1v1h-1zM15 253h1v2h-1zM20 253h1v2h-1zM16 255h4v1h-4zM16 257h2v1h-2zM15 258h1v3h-1zM17 258h1v3h-1zM20 258h1v3h-1zM16 261h4v1h-4zM16 263h1v1h-1zM15 264h1v2h-1zM16 266h1v1h-1zM15 267h6v1h-6zM14 269h1v1h-1zM13 270h1v2h-1zM17 270h1v2h-1zM14 272h7v1h-7zM17 273h1v1h-1z"/></g>
<g class="legend-mark" fill="#0000FF"><path d="M684 50h1v1h-1zM682 51h5v2h-5zM681 53h7v1h-7zM682 54h5v2h-5zM684 56h1v1h-1z"/></g>
<g class="legendtext" fill="#000000"><text class="t-s" x="697" y="57">f</text><path d="M699 49h2v1h-2zM698 50h1v3h-1zM701 50h1v1h-1zM697 53h4v1h-4zM698 54h1v3h-1z"/></g>
<g class="legend-mark" fill="#00AA00"><path d="M684 64h1v1h-1zM682 65h5v2h-5zM681 67h7v1h-7zM682 68h5v2h-5zM684 70h1v1h-1z"/></g>
<g class="legendtext" fill="#000000"><text class="t-s" x="697" y="71">f_cum</text><path d="M699 63h2v1h-2zM698 64h1v3h-1zM701 64h1v1h-1zM710 65h3v1h-3zM715 65h1v5h-1zM719 65h1v4h-1zM721 65h2v1h-2zM724 65h1v1h-1zM709 66h1v4h-1zM713 66h1v1h-1zM721 66h1v5h-1zM723 66h1v4h-1zM725 66h1v5h-1zM697 67h4v1h-4zM698 68h1v3h-1zM713 69h1v1h-1zM718 69h2v1h-2zM710 70h3v1h-3zM716 70h2v1h-2zM719 70h1v1h-1zM703 71h5v1h-5z"/></g>
<g class="legend-mark" fill="#FF4272"><path d="M684 78h1v1h-1zM682 79h5v2h-5zM681 81h7v1h-7zM682 82h5v2h-5zM684 84h1v1h-1z"/></g>
<g class="legendtext" fill="#000000"><text class="t-s" x="697" y="85">f_dcum</text><path d="M699 77h2v1h-2zM713 77h1v3h-1zM698 78h1v3h-1zM701 78h1v1h-1zM710 79h2v1h-2zM716 79h3v1h-3zM721 79h1v5h-1zM725 79h1v4h-1zM727 79h2v1h-2zM730 79h1v1h-1zM709 80h1v4h-1zM712 80h2v1h-2zM715 80h1v4h-1zM719 80h1v1h-1zM727 80h1v5h-1zM729 80h1v4h-1zM731 80h1v5h-1zM697 81h4v1h-4zM713 81h1v2h-1zM698 82h1v3h-1zM712 83h2v1h-2zM719 83h1v1h-1zM724 83h2v1h-2zM710 84h2v1h-2zM713 84h1v1h-1zM716 84h3v1h-3zM722 84h2v1h-2zM725 84h1v1h-1zM703 85h5v1h-5z"/></g>
</svg>
</body>
</html>
